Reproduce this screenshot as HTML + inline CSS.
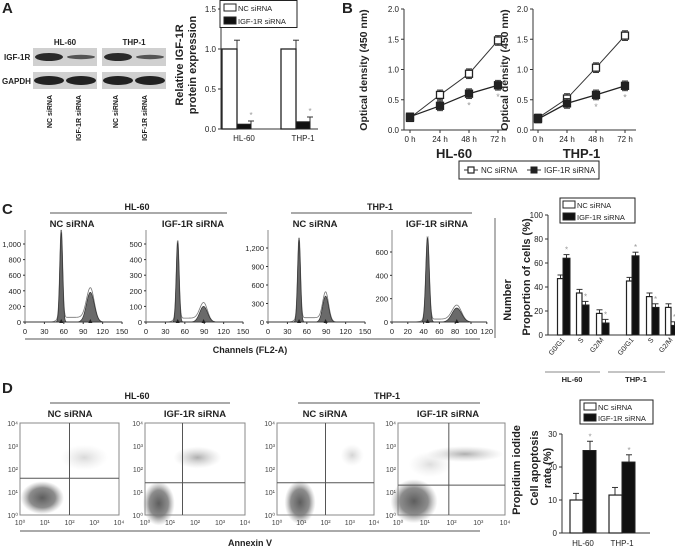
<!DOCTYPE html>
<html><head><meta charset="utf-8"><style>
html,body{margin:0;padding:0;background:#fff;}
svg{display:block;font-family:"Liberation Sans",Arial,sans-serif;}
</style></head><body>
<svg id="fig" width="675" height="551" viewBox="0 0 675 551" xmlns="http://www.w3.org/2000/svg">
<defs>
<radialGradient id="cl" cx="50%" cy="50%" r="50%"><stop offset="0" stop-color="#555" stop-opacity="0.95"/><stop offset="0.6" stop-color="#707070" stop-opacity="0.8"/><stop offset="1" stop-color="#999" stop-opacity="0"/></radialGradient>
<radialGradient id="cl2" cx="50%" cy="50%" r="50%"><stop offset="0" stop-color="#888" stop-opacity="0.8"/><stop offset="1" stop-color="#bbb" stop-opacity="0"/></radialGradient>
</defs>
</svg>
<script>
// ---------- data ----------
const aGroups = ["HL-60","THP-1"];
const aNC = [1.0, 1.0];
const aNCerr = [0.11, 0.11];
const aIGF = [0.06, 0.09];
const aIGFerr = [0.04, 0.06];
const aTicks = [0.0, 0.5, 1.0, 1.5];

const bTimes = ["0 h","24 h","48 h","72 h"];
const bHLnc = [0.20, 0.58, 0.93, 1.48];
const bHLigf = [0.22, 0.40, 0.60, 0.74];
const bTHnc = [0.20, 0.52, 1.03, 1.56];
const bTHigf = [0.18, 0.44, 0.58, 0.73];
const bErr = [0.06, 0.08, 0.08, 0.08];
const bTicks = [0.0, 0.5, 1.0, 1.5, 2.0];

const cPhases = ["G0/G1","S","G2/M","G0/G1","S","G2/M"];
const cNC = [47, 35, 18, 45, 32, 23];
const cIGF = [64, 25, 10, 66, 23, 8];
const cNCerr = [3, 3, 3, 3, 3, 3];
const cIGFerr = [3, 3, 3, 3, 3, 3];
const cTicks = [0, 20, 40, 60, 80, 100];

// histogram peaks: [G1 channel, G1 height, G2 channel, G2 height, S level]
const hPeaks = [[56,1150,101,380,60],[49,510,89,100,25],[48,1330,89,420,70],[45,720,82,120,25]];
const hTicks = [[0,200,400,600,800,1000],[0,100,200,300,400,500],[0,300,600,900,1200],[0,200,400,600]];
const hTickLabels = [["0","200","400","600","800","1,000"],["0","100","200","300","400","500"],["0","300","600","900","1,200"],["0","200","400","600"]];
const hXTicks = [[0,30,60,90,120,150],[0,30,60,90,120,150],[0,30,60,90,120,150],[0,20,40,60,80,100,120]];

// flow clusters: [xlog, ylog, sx, sy, weight]
const dClusters = [
 [[0.9,0.75,0.55,0.45,1],[2.6,2.5,0.6,0.35,0.4]],
 [[0.55,0.5,0.4,0.6,1],[2.1,2.5,0.6,0.3,0.85]],
 [[0.95,0.55,0.4,0.6,1],[3.1,2.6,0.3,0.3,0.45]],
 [[0.6,0.6,0.55,0.6,1],[2.5,2.65,0.9,0.22,0.85],[1.2,2.2,0.5,0.35,0.35]]];
const dQuad = [[2.0,1.6],[1.5,1.4],[2.0,1.4],[1.9,1.3]];

const dGroups = ["HL-60","THP-1"];
const dNC = [10, 11.5];
const dNCerr = [2, 2.3];
const dIGF = [25, 21.5];
const dIGFerr = [2.8, 2.2];
const dTicks = [0, 10, 20, 30];

// ---------- helpers ----------
const svg = document.getElementById('fig');
const NS = 'http://www.w3.org/2000/svg';
function mk(tag, attrs, name, parent){
  const el = document.createElementNS(NS, tag);
  for (const k in attrs) el.setAttribute(k, attrs[k]);
  
  
  (parent||svg).appendChild(el);
  return el;
}
function txt(x,y,s,name,o){
  o=o||{};
  const a={x:x,y:y,'font-size':o.fs||8,fill:o.fill||'#222','text-anchor':o.anchor||'middle'};
  if(o.bold) a['font-weight']='bold';
  if(o.rot!==undefined) a.transform='rotate('+o.rot+' '+x+' '+y+')';
  const t=mk('text',a,name,o.parent);
  t.textContent=s; return t;
}
function line(x1,y1,x2,y2,name,o){o=o||{};return mk('line',{x1:x1,y1:y1,x2:x2,y2:y2,stroke:o.stroke||'#333','stroke-width':o.w||1},name,o.parent);}
function rect(x,y,w,h,name,o){o=o||{};return mk('rect',{x:x,y:y,width:w,height:h,fill:o.fill||'#fff',stroke:o.stroke||'#222','stroke-width':o.w||1},name,o.parent);}
function errbar(x,yTop,yMid,name){line(x,yTop,x,yMid,name);line(x-3,yTop,x+3,yTop,name+'-cap');}

// ---------- panel labels ----------
txt(2,13,"A","panel-label-a",{fs:15,bold:1,anchor:'start'});
txt(342,13,"B","panel-label-b",{fs:15,bold:1,anchor:'start'});
txt(2,214,"C","panel-label-c",{fs:15,bold:1,anchor:'start'});
txt(2,393,"D","panel-label-d",{fs:15,bold:1,anchor:'start'});

// ---------- Panel A blots ----------
txt(65,45,"HL-60","blot-hl60-title",{fs:8,bold:1});
txt(134,45,"THP-1","blot-thp1-title",{fs:8,bold:1});
txt(4,60,"IGF-1R","blot-igf1r-label",{fs:8,bold:1,anchor:'start'});
txt(2,84,"GAPDH","blot-gapdh-label",{fs:8,bold:1,anchor:'start'});
[[33,97],[102,166]].forEach((r,i)=>{
  mk('rect',{x:r[0],y:48,width:r[1]-r[0],height:18,fill:'#d0d0d0'},'blot-igf1r-bg-'+i);
  mk('rect',{x:r[0],y:72,width:r[1]-r[0],height:17,fill:'#d0d0d0'},'blot-gapdh-bg-'+i);
  const c1=r[0]+16,c2=r[0]+48;
  mk('ellipse',{cx:c1,cy:57,rx:14,ry:4,fill:'#2a2a2a'},'band-igf1r-nc-'+i);
  mk('ellipse',{cx:c2,cy:57,rx:14,ry:2.2,fill:'#555'},'band-igf1r-si-'+i);
  mk('ellipse',{cx:c1,cy:80.5,rx:15,ry:4.5,fill:'#222'},'band-gapdh-nc-'+i);
  mk('ellipse',{cx:c2,cy:80.5,rx:15,ry:4.5,fill:'#222'},'band-gapdh-si-'+i);
});
[[52,"NC siRNA"],[81,"IGF-1R siRNA"],[118,"NC siRNA"],[147,"IGF-1R siRNA"]].forEach((d,i)=>{
  txt(d[0],95,d[1],'blot-lane-label-'+i,{fs:7,bold:1,anchor:'end',rot:-90});
});

// ---------- Panel A bar chart ----------
(function(){
  const yA=v=>129-v*80, ax=221;
  line(ax,8,ax,129,'a-y-axis');
  line(ax,129,318,129,'a-x-axis');
  aTicks.forEach(t=>{line(ax-3,yA(t),ax,yA(t),'a-y-tick');txt(ax-5,yA(t)+3,t.toFixed(1),'a-y-tick-label',{anchor:'end'});});
  txt(183,65,"Relative IGF-1R","a-y-title-1",{fs:11,bold:1,rot:-90});
  txt(196,65,"protein expression","a-y-title-2",{fs:11,bold:1,rot:-90});
  const gx=[244,303];
  aGroups.forEach((g,i)=>{
    const x=gx[i];
    errbar(x-7,yA(aNC[i]+aNCerr[i]),yA(aNC[i]),'a-err-nc');
    rect(x-22,yA(aNC[i]),15,129-yA(aNC[i]),'a-bar-nc-'+g,{w:1.3});
    errbar(x+7,yA(aIGF[i]+aIGFerr[i]),yA(aIGF[i]),'a-err-igf');
    rect(x-7,yA(aIGF[i]),14,129-yA(aIGF[i]),'a-bar-igf-'+g,{fill:'#111'});
    txt(x+7,yA(aIGF[i]+aIGFerr[i])-3,"*","a-star",{fill:'#999'});
    txt(x,141,g,'a-x-label-'+g,{fs:8});
  });
  rect(220,0.5,77,27,'a-legend-box',{w:1});
  rect(224,4,12,7,'a-legend-nc-swatch');
  txt(238,11,"NC siRNA","a-legend-nc",{anchor:'start',fs:7.5});
  rect(224,17,12,7,'a-legend-igf-swatch',{fill:'#111'});
  txt(238,24,"IGF-1R siRNA","a-legend-igf",{anchor:'start',fs:7.5});
})();

// ---------- Panel B ----------
function lineChart(ax,xs,nc,igf,title,id,titleX){
  const yB=v=>130-v*60.5;
  line(ax,9,ax,130,id+'-y-axis');
  line(ax,130,ax+103,130,id+'-x-axis');
  bTicks.forEach(t=>{line(ax-3,yB(t),ax,yB(t),id+'-y-tick');txt(ax-5,yB(t)+3,t.toFixed(1),id+'-y-tick-label',{anchor:'end'});});
  bTimes.forEach((t,i)=>{line(xs[i],130,xs[i],133,id+'-x-tick');txt(xs[i],142,t,id+'-x-tick-label');});
  txt(titleX,70,"Optical density (450 nm)",id+'-y-title',{fs:10.5,bold:1,rot:-90});
  txt((xs[0]+xs[3])/2,158,title,id+'-title',{fs:13,bold:1});
  const pts=a=>a.map((v,i)=>xs[i]+','+yB(v)).join(' ');
  mk('polyline',{points:pts(nc),fill:'none',stroke:'#333','stroke-width':1},id+'-nc-line');
  mk('polyline',{points:pts(igf),fill:'none',stroke:'#222','stroke-width':1.3},id+'-igf-line');
  [[nc,'#fff'],[igf,'#222']].forEach((s,k)=>{
    s[0].forEach((v,i)=>{
      const y=yB(v), e=bErr[i]*60.5;
      line(xs[i],y-e,xs[i],y+e,id+'-err');line(xs[i]-3,y-e,xs[i]+3,y-e,id+'-err-cap');line(xs[i]-3,y+e,xs[i]+3,y+e,id+'-err-cap');
      rect(xs[i]-3.5,y-3.5,7,7,id+(k?'-igf-point':'-nc-point'),{fill:s[1],w:1.3});
    });
  });
  [2,3].forEach(i=>txt(xs[i],yB(igf[i]-bErr[i])+10,"*",id+'-star',{fill:'#999',fs:9}));
}
lineChart(404,[410,440,469,498],bHLnc,bHLigf,"HL-60","b-hl60",367);
lineChart(533,[538,567,596,625],bTHnc,bTHigf,"THP-1","b-thp1",508);
rect(459,161,140,18,'b-legend-box',{w:1});
line(464,170,478,170,'b-legend-nc-line');rect(468,167,6,6,'b-legend-nc-marker',{w:1.2});
txt(481,173,"NC siRNA","b-legend-nc",{anchor:'start'});
line(527,170,541,170,'b-legend-igf-line');rect(531,167,6,6,'b-legend-igf-marker',{fill:'#222'});
txt(544,173,"IGF-1R siRNA","b-legend-igf",{anchor:'start'});

// ---------- Panel C headers ----------
txt(137,210,"HL-60","c-hl60-header",{fs:9,bold:1});
line(50,213,227,213,'c-hl60-line',{stroke:'#555'});
txt(380,210,"THP-1","c-thp1-header",{fs:9,bold:1});
line(291,213,472,213,'c-thp1-line',{stroke:'#555'});
[[72,"NC siRNA"],[193,"IGF-1R siRNA"],[315,"NC siRNA"],[437,"IGF-1R siRNA"]].forEach((d,i)=>txt(d[0],227,d[1],'c-subtitle-'+i,{fs:9.5,bold:1}));
line(25,339,480,339,'c-channels-line',{stroke:'#555'});
txt(250,353,"Channels (FL2-A)","c-x-title",{fs:9,bold:1});

// histograms
const hX0=[25,146,268,392], hXs=[0.647,0.647,0.647,0.79], hYs=[78/1000,78/500,74/1200,70/600];
hPeaks.forEach((p,k)=>{
  const base=322, x=c=>hX0[k]+c*hXs[k], y=v=>base-v*hYs[k];
  const xmax = k===3?120:150;
  line(x(0),230,x(0),base,'c-hist-y-axis-'+k,{stroke:'#888'});
  line(x(0),base,x(xmax),base,'c-hist-x-axis-'+k,{stroke:'#888'});
  hTicks[k].forEach((t,i)=>{line(x(0)-2,y(t),x(0),y(t),'c-hist-y-tick');txt(x(0)-4,y(t)+3,hTickLabels[k][i],'c-hist-y-tick-label',{anchor:'end',fs:7.5});});
  hXTicks[k].forEach(t=>{line(x(t),base,x(t),base+2,'c-hist-x-tick');txt(x(t),base+12,String(t),'c-hist-x-tick-label',{fs:7.5});});
  const sd1=2.2, sd2=k===2?4.5:6;
  const g=(c,m,h,s)=>h*Math.exp(-0.5*((c-m)/s)*((c-m)/s));
  let d1='M'+x(0)+','+base, d2='M'+x(0)+','+base, d3='M'+x(0)+','+base;
  for(let c=0;c<=xmax;c+=0.5){
    const g1=g(c,p[0],p[1],sd1), g2=g(c,p[2],p[3],sd2);
    const s=(c>p[0]&&c<p[2])?p[4]:p[4]*Math.exp(-Math.pow((c<p[0]?p[0]-c:c-p[2])/8,2));
    d1+=' L'+x(c)+','+y(g1);
    d2+=' L'+x(c)+','+y(g2);
    d3+=' L'+x(c)+','+y(g1+g2+s);
  }
  mk('path',{d:d3+' L'+x(xmax)+','+base+'Z',fill:'none',stroke:'#777','stroke-width':0.8},'c-hist-total-'+k);
  mk('path',{d:d1+' L'+x(xmax)+','+base+'Z',fill:'#666',stroke:'#333','stroke-width':0.7},'c-hist-g1-peak-'+k);
  mk('path',{d:d2+' L'+x(xmax)+','+base+'Z',fill:'#6a6a6a',stroke:'#333','stroke-width':0.7},'c-hist-g2-peak-'+k);
  mk('path',{d:'M'+(x(p[0])-2)+','+(base+1)+' l2,-4 l2,4z',fill:'#222'},'c-hist-marker');
  mk('path',{d:'M'+(x(p[2])-2)+','+(base+1)+' l2,-4 l2,4z',fill:'#222'},'c-hist-marker');
});
line(495,218,495,338,'c-hist-frame-right',{stroke:'#666'});
txt(511,300,"Number","c-number-title",{fs:11,bold:1,rot:-90});

// Panel C bar chart
(function(){
  const yC=v=>335-v*1.2, ax=548;
  line(ax,215,ax,335,'c-bar-y-axis');line(ax,335,675,335,'c-bar-x-axis');
  cTicks.forEach(t=>{line(ax-3,yC(t),ax,yC(t),'c-bar-y-tick');txt(ax-5,yC(t)+3,String(t),'c-bar-y-tick-label',{anchor:'end'});});
  txt(530,277,"Proportion of cells (%)","c-bar-y-title",{fs:11,bold:1,rot:-90});
  const gx=[563,582,602,632,652,671];
  cPhases.forEach((ph,i)=>{
    const x=gx[i];
    errbar(x-2.5,yC(cNC[i]+cNCerr[i]),yC(cNC[i]),'c-err-nc');
    rect(x-5.5,yC(cNC[i]),5.5,335-yC(cNC[i]),'c-bar-nc-'+ph,{w:1.2});
    errbar(x+3.5,yC(cIGF[i]+cIGFerr[i]),yC(cIGF[i]),'c-err-igf');
    rect(x,yC(cIGF[i]),7,335-yC(cIGF[i]),'c-bar-igf-'+ph,{fill:'#111'});
    txt(x+3.5,yC(cIGF[i]+cIGFerr[i])-2,"*","c-star",{fill:'#999'});
    txt(x+2,340,ph,'c-x-label-'+ph,{fs:7,anchor:'end',rot:-50});
  });
  line(545,372,600,372,'c-hl60-group-line',{stroke:'#888'});txt(572,382,"HL-60","c-hl60-group",{fs:7.5,bold:1});
  line(608,372,665,372,'c-thp1-group-line',{stroke:'#888'});txt(636,382,"THP-1","c-thp1-group",{fs:7.5,bold:1});
  rect(560,198,75,25,'c-legend-box');
  rect(563,201,12,7,'c-legend-nc-swatch');txt(577,208,"NC siRNA","c-legend-nc",{anchor:'start',fs:7.5});
  rect(563,213,12,7,'c-legend-igf-swatch',{fill:'#111'});txt(577,220,"IGF-1R siRNA","c-legend-igf",{anchor:'start',fs:7.5});
})();

// ---------- Panel D ----------
txt(137,399,"HL-60","d-hl60-header",{fs:9,bold:1});
line(50,403,230,403,'d-hl60-line',{stroke:'#555'});
txt(387,399,"THP-1","d-thp1-header",{fs:9,bold:1});
line(298,403,480,403,'d-thp1-line',{stroke:'#555'});
[[70,"NC siRNA"],[195,"IGF-1R siRNA"],[325,"NC siRNA"],[448,"IGF-1R siRNA"]].forEach((d,i)=>txt(d[0],417,d[1],'d-subtitle-'+i,{fs:9.5,bold:1}));
line(20,531,480,531,'d-annexin-line',{stroke:'#555'});
txt(250,546,"Annexin V","d-x-title",{fs:9,bold:1});
txt(520,470,"Propidium iodide","d-y-title",{fs:11,bold:1,rot:-90});
const dBox=[[20,119],[145,245],[277,374],[398,505]];
const sup=['\u2070','\u00b9','\u00b2','\u00b3','\u2074'];
dClusters.forEach((cls,k)=>{
  const x0=dBox[k][0], x1=dBox[k][1], top=423, bot=515;
  const xl=v=>x0+v*(x1-x0)/4, yl=v=>bot-v*(bot-top)/4;
  const g=mk('g',{},'d-scatter-plot-'+k);
  rect(x0,top,x1-x0,bot-top,'d-scatter-frame',{stroke:'#888',parent:g});
  cls.forEach((c,j)=>{
    mk('ellipse',{cx:xl(c[0]),cy:yl(c[1]),rx:c[2]*(x1-x0)/4*1.6,ry:c[3]*(bot-top)/4*1.6,fill:j===0?'url(#cl)':'url(#cl2)',opacity:c[4]},'d-cell-cluster',g);
  });
  line(xl(dQuad[k][0]),top,xl(dQuad[k][0]),bot,'d-quadrant-v',{stroke:'#555',parent:g});
  line(x0,yl(dQuad[k][1]),x1,yl(dQuad[k][1]),'d-quadrant-h',{stroke:'#555',parent:g});
  for(let e=0;e<=4;e++){
    txt(xl(e),525,'10'+sup[e],'d-x-tick-label',{fs:7,fill:'#444',parent:g});
    txt(x0-2,yl(e)+3,'10'+sup[e],'d-y-tick-label',{fs:7,fill:'#444',anchor:'end',parent:g});
  }
});
(function(){
  const yD=v=>533-v*3.3, ax=562;
  line(ax,434,ax,533,'d-bar-y-axis');line(ax,533,650,533,'d-bar-x-axis');
  dTicks.forEach(t=>{line(ax-3,yD(t),ax,yD(t),'d-bar-y-tick');txt(ax-5,yD(t)+3,String(t),'d-bar-y-tick-label',{anchor:'end'});});
  txt(538,468,"Cell apoptosis","d-bar-y-title-1",{fs:11,bold:1,rot:-90});
  txt(551,468,"rate (%)","d-bar-y-title-2",{fs:11,bold:1,rot:-90});
  const gx=[583,622];
  dGroups.forEach((g,i)=>{
    const x=gx[i];
    errbar(x-7,yD(dNC[i]+dNCerr[i]),yD(dNC[i]),'d-err-nc');
    rect(x-13,yD(dNC[i]),13,533-yD(dNC[i]),'d-bar-nc-'+g,{w:1.2});
    errbar(x+7,yD(dIGF[i]+dIGFerr[i]),yD(dIGF[i]),'d-err-igf');
    rect(x,yD(dIGF[i]),13,533-yD(dIGF[i]),'d-bar-igf-'+g,{fill:'#111'});
    txt(x+7,yD(dIGF[i]+dIGFerr[i])-2,"*","d-star",{fill:'#999'});
    txt(x,546,g,'d-x-label-'+g,{fs:8});
  });
  rect(580,400,73,24,'d-legend-box');
  rect(584,403,12,7,'d-legend-nc-swatch');txt(598,410,"NC siRNA","d-legend-nc",{anchor:'start',fs:7.5});
  rect(584,414,12,7,'d-legend-igf-swatch',{fill:'#111'});txt(598,421,"IGF-1R siRNA","d-legend-igf",{anchor:'start',fs:7.5});
})();
</script>
</body></html>
